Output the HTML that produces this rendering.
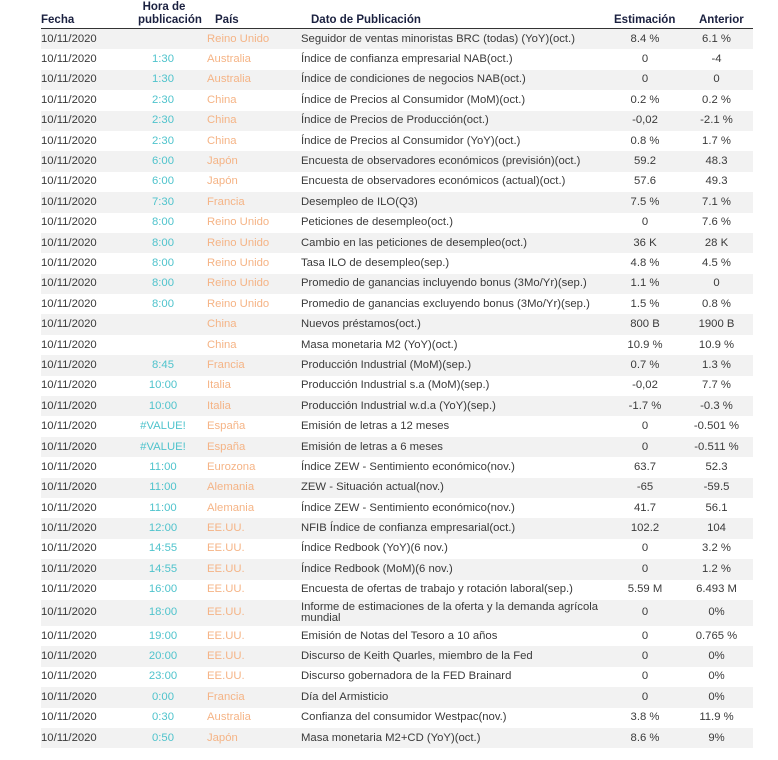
<!DOCTYPE html>
<html><head><meta charset="utf-8"><style>
body{margin:0;background:#fff;font-family:"Liberation Sans",sans-serif;}
.w{position:relative;width:778px;height:760px;}
.h{position:absolute;font-weight:bold;font-size:11.5px;color:#1b2140;line-height:13px;}
table{position:absolute;left:41px;top:28px;width:712px;border-collapse:collapse;border-top:1px solid #333;font-size:11.3px;color:#3a3a3a;table-layout:fixed;}
td{height:20.4px;padding:0;white-space:nowrap;line-height:11px;overflow:visible;}
tr:nth-child(odd){background:#f2f2f2;}
td.t{text-align:center;color:#4fc3cc;}
td.c{color:#f5b486;padding-left:1px;}
td.d{padding-left:5px;}
td.e{text-align:center;}
td.a{text-align:center;}
tr.tall td{height:26px;}
</style></head><body><div class="w">
<div class="h" style="left:41px;top:14px">Fecha</div>
<div class="h" style="left:138px;top:1px;text-align:center;width:52px">Hora de</div>
<div class="h" style="left:138px;top:14px">publicación</div>
<div class="h" style="left:215px;top:14px">País</div>
<div class="h" style="left:311px;top:14px">Dato de Publicación</div>
<div class="h" style="left:614px;top:14px">Estimación</div>
<div class="h" style="left:699px;top:14px">Anterior</div>
<table>
<colgroup><col style="width:79px"><col style="width:86px"><col style="width:90px"><col style="width:314px"><col style="width:70px"><col style="width:73px"></colgroup>
<tr><td class="f">10/11/2020</td><td class="t"></td><td class="c">Reino Unido</td><td class="d">Seguidor de ventas minoristas BRC (todas) (YoY)(oct.)</td><td class="e">8.4 %</td><td class="a">6.1 %</td></tr>
<tr><td class="f">10/11/2020</td><td class="t">1:30</td><td class="c">Australia</td><td class="d">Índice de confianza empresarial NAB(oct.)</td><td class="e">0</td><td class="a">-4</td></tr>
<tr><td class="f">10/11/2020</td><td class="t">1:30</td><td class="c">Australia</td><td class="d">Índice de condiciones de negocios NAB(oct.)</td><td class="e">0</td><td class="a">0</td></tr>
<tr><td class="f">10/11/2020</td><td class="t">2:30</td><td class="c">China</td><td class="d">Índice de Precios al Consumidor (MoM)(oct.)</td><td class="e">0.2 %</td><td class="a">0.2 %</td></tr>
<tr><td class="f">10/11/2020</td><td class="t">2:30</td><td class="c">China</td><td class="d">Índice de Precios de Producción(oct.)</td><td class="e">-0,02</td><td class="a">-2.1 %</td></tr>
<tr><td class="f">10/11/2020</td><td class="t">2:30</td><td class="c">China</td><td class="d">Índice de Precios al Consumidor (YoY)(oct.)</td><td class="e">0.8 %</td><td class="a">1.7 %</td></tr>
<tr><td class="f">10/11/2020</td><td class="t">6:00</td><td class="c">Japón</td><td class="d">Encuesta de observadores económicos (previsión)(oct.)</td><td class="e">59.2</td><td class="a">48.3</td></tr>
<tr><td class="f">10/11/2020</td><td class="t">6:00</td><td class="c">Japón</td><td class="d">Encuesta de observadores económicos (actual)(oct.)</td><td class="e">57.6</td><td class="a">49.3</td></tr>
<tr><td class="f">10/11/2020</td><td class="t">7:30</td><td class="c">Francia</td><td class="d">Desempleo de ILO(Q3)</td><td class="e">7.5 %</td><td class="a">7.1 %</td></tr>
<tr><td class="f">10/11/2020</td><td class="t">8:00</td><td class="c">Reino Unido</td><td class="d">Peticiones de desempleo(oct.)</td><td class="e">0</td><td class="a">7.6 %</td></tr>
<tr><td class="f">10/11/2020</td><td class="t">8:00</td><td class="c">Reino Unido</td><td class="d">Cambio en las peticiones de desempleo(oct.)</td><td class="e">36 K</td><td class="a">28 K</td></tr>
<tr><td class="f">10/11/2020</td><td class="t">8:00</td><td class="c">Reino Unido</td><td class="d">Tasa ILO de desempleo(sep.)</td><td class="e">4.8 %</td><td class="a">4.5 %</td></tr>
<tr><td class="f">10/11/2020</td><td class="t">8:00</td><td class="c">Reino Unido</td><td class="d">Promedio de ganancias incluyendo bonus (3Mo/Yr)(sep.)</td><td class="e">1.1 %</td><td class="a">0</td></tr>
<tr><td class="f">10/11/2020</td><td class="t">8:00</td><td class="c">Reino Unido</td><td class="d">Promedio de ganancias excluyendo bonus (3Mo/Yr)(sep.)</td><td class="e">1.5 %</td><td class="a">0.8 %</td></tr>
<tr><td class="f">10/11/2020</td><td class="t"></td><td class="c">China</td><td class="d">Nuevos préstamos(oct.)</td><td class="e">800 B</td><td class="a">1900 B</td></tr>
<tr><td class="f">10/11/2020</td><td class="t"></td><td class="c">China</td><td class="d">Masa monetaria M2 (YoY)(oct.)</td><td class="e">10.9 %</td><td class="a">10.9 %</td></tr>
<tr><td class="f">10/11/2020</td><td class="t">8:45</td><td class="c">Francia</td><td class="d">Producción Industrial (MoM)(sep.)</td><td class="e">0.7 %</td><td class="a">1.3 %</td></tr>
<tr><td class="f">10/11/2020</td><td class="t">10:00</td><td class="c">Italia</td><td class="d">Producción Industrial s.a (MoM)(sep.)</td><td class="e">-0,02</td><td class="a">7.7 %</td></tr>
<tr><td class="f">10/11/2020</td><td class="t">10:00</td><td class="c">Italia</td><td class="d">Producción Industrial w.d.a (YoY)(sep.)</td><td class="e">-1.7 %</td><td class="a">-0.3 %</td></tr>
<tr><td class="f">10/11/2020</td><td class="t">#VALUE!</td><td class="c">España</td><td class="d">Emisión de letras a 12 meses</td><td class="e">0</td><td class="a">-0.501 %</td></tr>
<tr><td class="f">10/11/2020</td><td class="t">#VALUE!</td><td class="c">España</td><td class="d">Emisión de letras a 6 meses</td><td class="e">0</td><td class="a">-0.511 %</td></tr>
<tr><td class="f">10/11/2020</td><td class="t">11:00</td><td class="c">Eurozona</td><td class="d">Índice ZEW - Sentimiento económico(nov.)</td><td class="e">63.7</td><td class="a">52.3</td></tr>
<tr><td class="f">10/11/2020</td><td class="t">11:00</td><td class="c">Alemania</td><td class="d">ZEW - Situación actual(nov.)</td><td class="e">-65</td><td class="a">-59.5</td></tr>
<tr><td class="f">10/11/2020</td><td class="t">11:00</td><td class="c">Alemania</td><td class="d">Índice ZEW - Sentimiento económico(nov.)</td><td class="e">41.7</td><td class="a">56.1</td></tr>
<tr><td class="f">10/11/2020</td><td class="t">12:00</td><td class="c">EE.UU.</td><td class="d">NFIB Índice de confianza empresarial(oct.)</td><td class="e">102.2</td><td class="a">104</td></tr>
<tr><td class="f">10/11/2020</td><td class="t">14:55</td><td class="c">EE.UU.</td><td class="d">Índice Redbook (YoY)(6 nov.)</td><td class="e">0</td><td class="a">3.2 %</td></tr>
<tr><td class="f">10/11/2020</td><td class="t">14:55</td><td class="c">EE.UU.</td><td class="d">Índice Redbook (MoM)(6 nov.)</td><td class="e">0</td><td class="a">1.2 %</td></tr>
<tr><td class="f">10/11/2020</td><td class="t">16:00</td><td class="c">EE.UU.</td><td class="d">Encuesta de ofertas de trabajo y rotación laboral(sep.)</td><td class="e">5.59 M</td><td class="a">6.493 M</td></tr>
<tr class="tall"><td class="f">10/11/2020</td><td class="t">18:00</td><td class="c">EE.UU.</td><td class="d" style="white-space:normal">Informe de estimaciones de la oferta y la demanda agrícola mundial</td><td class="e">0</td><td class="a">0%</td></tr>
<tr><td class="f">10/11/2020</td><td class="t">19:00</td><td class="c">EE.UU.</td><td class="d">Emisión de Notas del Tesoro a 10 años</td><td class="e">0</td><td class="a">0.765 %</td></tr>
<tr><td class="f">10/11/2020</td><td class="t">20:00</td><td class="c">EE.UU.</td><td class="d">Discurso de Keith Quarles, miembro de la Fed</td><td class="e">0</td><td class="a">0%</td></tr>
<tr><td class="f">10/11/2020</td><td class="t">23:00</td><td class="c">EE.UU.</td><td class="d">Discurso gobernadora de la FED Brainard</td><td class="e">0</td><td class="a">0%</td></tr>
<tr><td class="f">10/11/2020</td><td class="t">0:00</td><td class="c">Francia</td><td class="d">Día del Armisticio</td><td class="e">0</td><td class="a">0%</td></tr>
<tr><td class="f">10/11/2020</td><td class="t">0:30</td><td class="c">Australia</td><td class="d">Confianza del consumidor Westpac(nov.)</td><td class="e">3.8 %</td><td class="a">11.9 %</td></tr>
<tr><td class="f">10/11/2020</td><td class="t">0:50</td><td class="c">Japón</td><td class="d">Masa monetaria M2+CD (YoY)(oct.)</td><td class="e">8.6 %</td><td class="a">9%</td></tr>
</table>
</div></body></html>
